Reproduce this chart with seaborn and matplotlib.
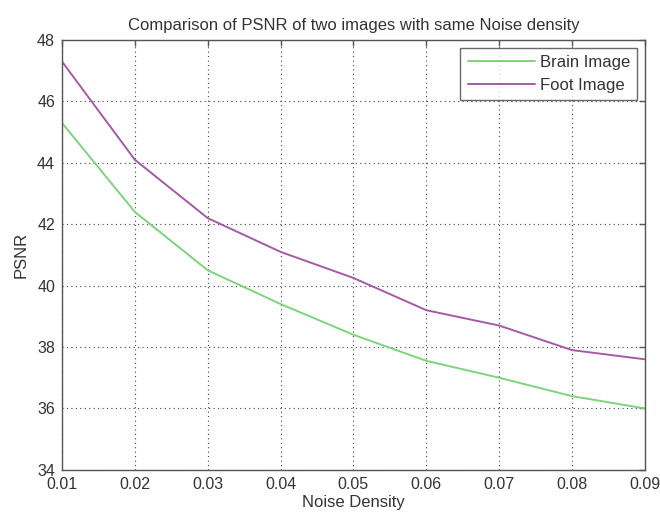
import pandas as pd
import seaborn as sns
import matplotlib.pyplot as plt

# Values
noise_density = [0.01, 0.02, 0.03, 0.04, 0.05, 0.06, 0.07, 0.08, 0.09]
brain_psnr = [45.3, 42.4, 40.5, 39.4, 38.4, 37.55, 37.0, 36.4, 36.0]
foot_psnr = [47.3, 44.1, 42.2, 41.1, 40.25, 39.2, 38.7, 37.9, 37.6]
series_names = ["Brain Image", "Foot Image"]
y_ticks = [34, 36, 38, 40, 42, 44, 46, 48]


def build_frame():
    brain = pd.DataFrame({"noise": noise_density, "psnr": brain_psnr, "image": series_names[0]})
    foot = pd.DataFrame({"noise": noise_density, "psnr": foot_psnr, "image": series_names[1]})
    return pd.concat([brain, foot], ignore_index=True)


def draw(df):
    sns.set_theme(style="white")
    plt.rcParams["font.family"] = ["Liberation Sans", "DejaVu Sans"]

    fig = plt.figure(figsize=(6.6, 5.14), dpi=100)
    ax = fig.add_axes([0.094, 0.086, 0.883, 0.836])

    sns.lineplot(data=df, x="noise", y="psnr", hue="image",
                 palette=["#7dd47d", "#a55aa5"], linewidth=1.4, ax=ax)

    ax.set_xlim(0.01, 0.09)
    ax.set_ylim(34, 48)
    ax.set_xticks(noise_density)
    ax.set_xticklabels([f"{v:.2f}" for v in noise_density])
    ax.set_yticks(y_ticks)
    ax.grid(True, linestyle=(0, (1, 3)), color="#444444", linewidth=0.8)

    for side in ax.spines.values():
        side.set_color("#555555")
        side.set_linewidth(1.0)
    ax.tick_params(direction="in", length=4, width=1, color="#555555",
                   top=True, right=True, labelsize=11.5,
                   labelcolor="#333333")
    ax.tick_params(axis="x", pad=5)
    ax.tick_params(axis="y", pad=5)

    ax.set_title("Comparison of PSNR of two images with same Noise density",
                 fontsize=12, color="#333333", pad=7)
    ax.set_xlabel("Noise Density", fontsize=12, color="#333333", labelpad=2)
    ax.set_ylabel("PSNR", fontsize=12, color="#333333", labelpad=6)

    leg = ax.legend(loc="upper right", fontsize=12, frameon=True,
                    fancybox=False, borderpad=0.45, handlelength=4.0,
                    handletextpad=0.3, borderaxespad=0.45, labelspacing=0.45)
    leg.get_frame().set_edgecolor("#444444")
    leg.get_frame().set_linewidth(1.0)
    for t in leg.get_texts():
        t.set_color("#333333")

    fig.savefig("out.png", dpi=100)


if __name__ == "__main__":
    draw(build_frame())
